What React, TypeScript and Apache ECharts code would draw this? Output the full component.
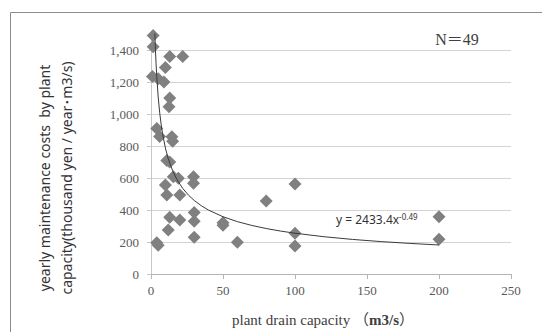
import React, { useEffect, useRef } from "react";
import * as echarts from "echarts";

// Scatter data
const CAPACITY = [1.5, 1.5, 13, 22, 10, 1, 5, 9, 13, 12.5, 4, 6, 14.5, 15, 11, 13, 15.5, 19, 29.5, 29.5, 10, 11, 20, 80, 30, 13, 20, 30, 50, 50, 12, 30, 4, 5, 60, 100, 100, 100, 200, 200];
const COST = [1490, 1420, 1360, 1360, 1290, 1235, 1220, 1200, 1100, 1045, 910, 860, 858, 830, 710, 700, 608, 598, 608, 567, 556, 494, 494, 456, 385, 355, 337, 330, 320, 305, 275, 230, 195, 180, 198, 562, 254, 175, 358, 217];

// Power trendline shown in the chart: y = A * x^B
const TREND_A = 2433.4;
const TREND_B = -0.49;
const TREND_X = [1, 1.5, 2, 2.5, 3, 3.5, 4, 5, 6, 7, 8, 10, 12, 15, 18, 22, 26, 30, 35, 40, 50, 60, 70, 80, 90, 100, 120, 140, 160, 180, 200];

const X_TICKS = [0, 50, 100, 150, 200, 250];
const Y_MAX = 1500;
const Y_STEP = 200;

const TREND_LABEL = "y = 2433.4x";
const TREND_EXP = "-0.49";
const N_LABEL = "N＝49";
const Y_NAME_1 = "yearly maintenance costs  by plant";
const Y_NAME_2 = "capacity(thousand yen / year･m3/s)";

export default function App() {
  const ref = useRef<HTMLDivElement>(null);
  useEffect(() => {
    if (!ref.current) return;
    const chart = echarts.init(ref.current, null, { renderer: "svg" });
    const scatterData = CAPACITY.map((x, i) => [x, COST[i]]);
    const trendData = TREND_X.map((x) => [x, TREND_A * Math.pow(x, TREND_B)]);
    const serif = "'Liberation Serif', 'DejaVu Serif', serif";
    chart.setOption({
      animation: false,
      backgroundColor: "#ffffff",
      grid: { left: 151, right: 31, top: 34, bottom: 58, containLabel: false },
      xAxis: {
        type: "value",
        min: X_TICKS[0],
        max: X_TICKS[X_TICKS.length - 1],
        interval: X_TICKS[1] - X_TICKS[0],
        axisLine: { show: true, lineStyle: { color: "#b5b5b5", width: 1 } },
        axisTick: { show: true, inside: false, length: 5, lineStyle: { color: "#b5b5b5" } },
        splitLine: { show: false },
        axisLabel: { color: "#595959", fontFamily: serif, fontSize: 13, margin: 10 },
      },
      yAxis: {
        type: "value",
        min: 0,
        max: Y_MAX,
        interval: Y_STEP,
        axisLine: { show: true, lineStyle: { color: "#c8c8c8", width: 1 } },
        axisTick: { show: true, inside: false, length: 4, lineStyle: { color: "#c8c8c8" } },
        splitLine: { show: true, showMaxLine: false, lineStyle: { color: "#d4d4d4", width: 1 } },
        axisLabel: {
          color: "#595959",
          fontFamily: serif,
          fontSize: 13,
          margin: 12,
          showMaxLabel: false,
          formatter: (v: number) => (v >= Y_MAX ? "" : v.toLocaleString("en-US")),
        },
      },
      series: [
        {
          type: "line",
          data: trendData,
          showSymbol: false,
          symbol: "none",
          smooth: false,
          clip: true,
          lineStyle: { color: "#3a3a3a", width: 1 },
          z: 3,
        },
        {
          type: "scatter",
          data: scatterData,
          symbol: "diamond",
          symbolSize: 13,
          clip: false,
          itemStyle: { color: "#808080", opacity: 1 },
          z: 2,
        },
      ],
      graphic: [
        {
          type: "rect",
          shape: { x: 10.5, y: 12.5, width: 560, height: 360 },
          style: { fill: "none", stroke: "#8c8c8c", lineWidth: 1 },
          silent: true,
        },
        {
          type: "text",
          x: 55,
          y: 178,
          rotation: Math.PI / 2,
          style: {
            text: Y_NAME_1 + "\n" + Y_NAME_2,
            align: "center",
            verticalAlign: "middle",
            lineHeight: 22,
            fontSize: 14,
            fontFamily: "'Noto Sans', 'Noto Sans CJK JP', sans-serif",
            fill: "#333333",
          },
        },
        {
          type: "text",
          x: 323,
          y: 320,
          style: {
            text: "{a|plant drain capacity （}{b|m3/s}{a|）}",
            align: "center",
            verticalAlign: "middle",
            rich: {
              a: { fontSize: 15, fontFamily: "'Liberation Serif', 'Noto Sans CJK JP', serif", fill: "#404040" },
              b: { fontSize: 15, fontWeight: "bold", fontFamily: "'Liberation Serif', serif", fill: "#404040" },
            },
          },
        },
        {
          type: "text",
          x: 457,
          y: 39,
          style: {
            text: N_LABEL,
            align: "center",
            verticalAlign: "middle",
            fontSize: 16,
            fontFamily: "'Liberation Serif', 'Noto Sans CJK JP', serif",
            fill: "#404040",
          },
        },
        {
          type: "text",
          x: 336,
          y: 219,
          style: {
            text: "{m|" + TREND_LABEL + "}{s|" + TREND_EXP + "}",
            align: "left",
            verticalAlign: "middle",
            rich: {
              m: { fontSize: 12, fontFamily: "'Noto Sans', sans-serif", fill: "#333333" },
              s: { fontSize: 8, fontFamily: "'Noto Sans', sans-serif", fill: "#333333", verticalAlign: "top", padding: [0, 0, 6, 0] },
            },
          },
        },
      ],
    });
    return () => chart.dispose();
  }, []);
  return (
    <div
      ref={ref}
      style={{ position: "fixed", left: 0, top: 0, width: 542, height: 332, background: "#fff" }}
    />
  );
}
